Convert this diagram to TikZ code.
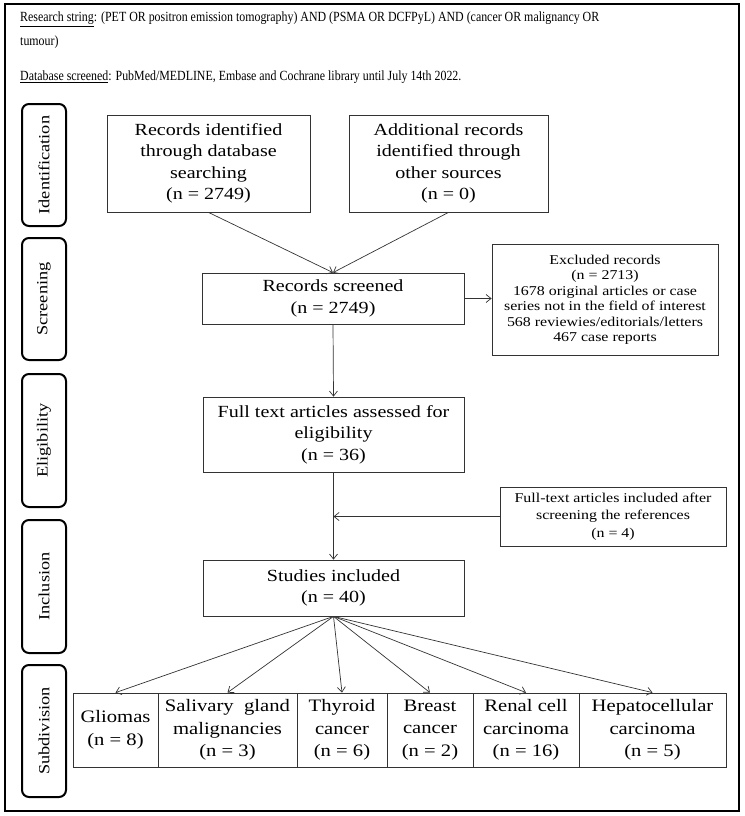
\documentclass[tikz,border=0pt]{standalone}
\usepackage{fontspec}
\setmainfont{Liberation Serif}[FakeStretch=1.18]
\newfontfamily\topfont{Liberation Serif}[FakeStretch=0.85]
\usetikzlibrary{arrows.meta}
\tikzset{
  box/.style={draw=black!80, line width=0.8pt, align=center, inner sep=2pt,
              font=\fontsize{17}{21.5}\selectfont},
  smallbox/.style={box, font=\fontsize{13.5}{15.5}\selectfont},
  catbox/.style={box, font=\fontsize{17.5}{22.5}\selectfont, minimum height=74pt},
  phase/.style={draw=black, line width=2pt, rounded corners=7pt, rotate=90,
                minimum height=44pt, font=\fontsize{15.5}{20}\selectfont},
  arr/.style={draw=black!80, line width=0.7pt, -{Straight Barb[length=5pt,width=8pt]}},
  toptext/.style={anchor=base west, inner sep=0pt, font=\topfont\fontsize{14}{16}\selectfont}
}
\begin{document}
\begin{tikzpicture}[x=1pt,y=-1pt]
\useasboundingbox (0,0) rectangle (744,816);
\node[draw=black, line width=1.2pt, minimum width=734pt, minimum height=807pt, inner sep=0pt] (frame) at (372,407.5) {};
% header text
\node[toptext] (t1) at (20,21.5) {\underline{Research string}: (PET OR positron emission tomography) AND (PSMA OR DCFPyL) AND (cancer OR malignancy OR};
\node[toptext] (t2) at (20,46) {tumour)};
\node[toptext] (t3) at (20,80.5) {\underline{Database screened}: PubMed/MEDLINE, Embase and Cochrane library until July 14th 2022.};
% phase labels
\node[phase, minimum width=122pt] (pid) at (44,165) {Identification};
\node[phase, minimum width=122pt] (psc) at (44,299) {Screening};
\node[phase, minimum width=133pt] (pel) at (44,440.5) {Eligibility};
\node[phase, minimum width=133pt] (pin) at (44,586.5) {Inclusion};
\node[phase, minimum width=132pt] (psu) at (44,731) {Subdivision};
% main boxes
\node[box, minimum width=203pt, minimum height=97pt] (rid) at (208.5,163.5) {Records identified\\through database\\searching\\(n = 2749)};
\node[box, minimum width=199pt, minimum height=97pt] (add) at (448.5,163.5) {Additional records\\identified through\\other sources\\(n = 0)};
\node[box, minimum width=262pt, minimum height=51pt] (scr) at (333,298.5) {Records screened\\(n = 2749)};
\node[smallbox, minimum width=226pt, minimum height=111pt] (exc) at (605,299.5) {Excluded records\\(n = 2713)\\1678 original articles or case\\series not in the field of interest\\568 reviewies/editorials/letters\\467 case reports};
\node[smallbox, minimum width=226pt, minimum height=59pt, font=\fontsize{13.5}{17.5}\selectfont] (inc) at (613,516.5) {Full-text articles included after\\screening the references\\(n = 4)};
\node[box, minimum width=261pt, minimum height=75pt] (ful) at (333.5,434.5) {Full text articles assessed for\\eligibility\\(n = 36)};
\node[box, minimum width=261pt, minimum height=56pt] (stu) at (333.5,588) {Studies included\\(n = 40)};
% categories
\node[catbox, minimum width=85pt] (c1) at (115.5,730) {Gliomas\\(n = 8)};
\node[catbox, minimum width=139pt] (c2) at (227.5,730) {Salivary\ \ gland\\malignancies\\(n = 3)};
\node[catbox, minimum width=90pt] (c3) at (342,730) {Thyroid\\cancer\\(n = 6)};
\node[catbox, minimum width=86pt] (c4) at (430,730) {Breast\\cancer\\(n = 2)};
\node[catbox, minimum width=106pt] (c5) at (526,730) {Renal cell\\carcinoma\\(n = 16)};
\node[catbox, minimum width=147pt] (c6) at (652.5,730) {Hepatocellular\\carcinoma\\(n = 5)};
% connectors
\draw[arr] (rid.south) -- (scr.north);
\draw[arr] (add.south) -- (scr.north);
\draw[arr] (scr.east) -- (exc.west |- scr.east);
\draw[arr] (scr.south) -- (ful.north);
\draw[arr] (ful.south) -- (stu.north);
\coordinate (join) at (ful.south |- inc.west);
\draw[arr] (inc.west) -- (join);
\draw[arr] (stu.south) -- (c1.north);
\draw[arr] (stu.south) -- (c2.north);
\draw[arr] (stu.south) -- (c3.north);
\draw[arr] (stu.south) -- (c4.north);
\draw[arr] (stu.south) -- (c5.north);
\draw[arr] (stu.south) -- (c6.north);
\end{tikzpicture}
\end{document}
